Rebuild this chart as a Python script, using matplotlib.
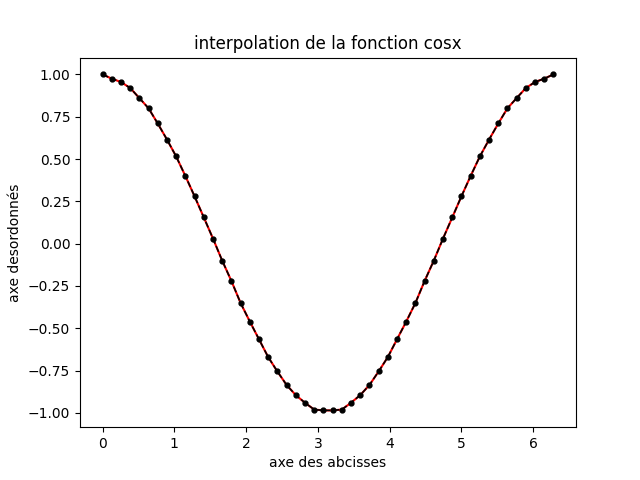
import matplotlib; matplotlib.use("Agg")
import matplotlib.pyplot as plt

# points (50 nodes over [0, 2pi])
x = [0.000, 0.128, 0.256, 0.385, 0.513, 0.641, 0.769, 0.898, 1.026, 1.154,
     1.282, 1.411, 1.539, 1.667, 1.795, 1.923, 2.052, 2.180, 2.308, 2.436,
     2.565, 2.693, 2.821, 2.949, 3.077, 3.206, 3.334, 3.462, 3.590, 3.719,
     3.847, 3.975, 4.103, 4.232, 4.360, 4.488, 4.616, 4.744, 4.873, 5.001,
     5.129, 5.257, 5.386, 5.514, 5.642, 5.770, 5.899, 6.027, 6.155, 6.283]
y = [1.00, 0.975, 0.955, 0.92, 0.86, 0.80, 0.71, 0.615, 0.515, 0.40,
     0.28, 0.155, 0.03, -0.10, -0.22, -0.35, -0.46, -0.565, -0.67, -0.755,
     -0.835, -0.895, -0.94, -0.98, -0.985,
     -0.985, -0.98, -0.94, -0.895, -0.835, -0.755, -0.67, -0.565, -0.46, -0.35,
     -0.22, -0.10, 0.03, 0.155, 0.28, 0.40, 0.515, 0.615, 0.71, 0.80,
     0.86, 0.92, 0.955, 0.975, 1.00]

fig, ax = plt.subplots(figsize=(6.4, 4.8), dpi=100)
ax.plot(x, y, color='red', lw=1.5)
ax.plot(x, y, 'k--', lw=1.2)
ax.plot(x, y, 'k.', ms=7)
ax.set_title("interpolation de la fonction cosx")
ax.set_xlabel("axe des abcisses")
ax.set_ylabel("axe desordonnés")
fig.savefig("out.png")
